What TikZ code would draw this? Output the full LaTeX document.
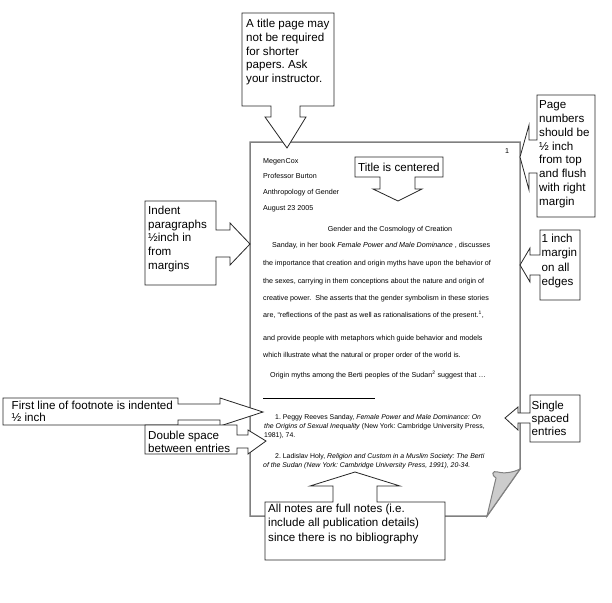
\documentclass[tikz,border=0pt]{standalone}
\usepackage{fontspec}
\setmainfont{Liberation Sans}
\frenchspacing
\begin{document}
\begin{tikzpicture}[x=1pt,y=-1pt,
  callout/.style={draw=black!85,fill=white,line width=0.8pt,line join=miter},
  pageline/.style={draw=black!50,line width=1.5pt,line join=miter},
  ctext/.style={anchor=north west,inner sep=0pt,align=left,font=\fontsize{11.6}{13.8}\selectfont},
  ptext/.style={anchor=base west,inner sep=0pt,font=\fontsize{7.15}{8}\selectfont},
  ftext/.style={anchor=base west,inner sep=0pt,font=\fontsize{6.9}{8}\selectfont}]
\useasboundingbox (0,0) rectangle (612,602);
\fill[white] (0,0) rectangle (612,602);
% page
\draw[pageline] (250,142) -- (520,142) -- (520,469) -- (487,516) -- (250,516) -- cycle;
\draw[pageline,fill=black!20,line width=1pt] (487,516) -- (496,478) .. controls (491,475) and (492,470) .. (498,472) .. controls (505,474) and (514,472) .. (520,469) -- cycle;
% page text
\node[ptext] (pn) at (505,153.5) {1};
\node[ptext] (l1) at (263,163.5) {Megen\hspace{0.6pt}Cox};
\node[ptext] (l2) at (263,178.5) {Professor Burton};
\node[ptext] (l3) at (263,194.5) {Anthropology of Gender};
\node[ptext] (l4) at (263,210.5) {August 23 2005};
\node[anchor=base,inner sep=0pt,font=\fontsize{7.15}{8}\selectfont] (ttl) at (390,231.5) {Gender and the Cosmology of Creation};
\node[ptext] (b1) at (272,247.5) {Sanday, in her book \textit{Female Power and Male Dominance} , discusses};
\node[ptext] (b2) at (263,265.5) {the importance that creation and origin myths have upon the behavior of};
\node[ptext] (b3) at (263,283.5) {the sexes, carrying in them conceptions about the nature and origin of};
\node[ptext] (b4) at (263,300.5) {creative power.\ \ She asserts that the gender symbolism in these stories};
\node[ptext] (b5) at (263,317.5) {are, “reflections of the past as well as rationalisations of the present.\textsuperscript{1},};
\node[ptext] (b6) at (263,340.5) {and provide people with metaphors which guide behavior and models};
\node[ptext] (b7) at (263,357.5) {which illustrate what the natural or proper order of the world is.};
\node[ptext] (b8) at (270,377.5) {Origin myths among the Berti peoples of the Sudan\textsuperscript{2} suggest that …};
\coordinate (r1) at (263,398);
\coordinate (r2) at (375,398);
\draw[black,line width=0.6pt] (r1) -- (r2);
\node[ftext] (f1) at (275,419.5) {1. Peggy Reeves Sanday, \textit{Female Power and Male Dominance: On}};
\node[ftext] (f2) at (264,428.5) {\textit{the Origins of Sexual Inequality} (New York: Cambridge University Press,};
\node[ftext] (f3) at (264,437.5) {1981), 74.};
\node[ftext] (f4) at (275,458.5) {2. Ladislav Holy, \textit{Religion and Custom in a Muslim Society: The Berti}};
\node[ftext] (f5) at (263,467.5) {\textit{of the Sudan (New York: Cambridge University Press, 1991), 20-34.}};
% callouts
\draw[callout] (242,13) -- (334,13) -- (334,106) -- (300,106) -- (300,117) -- (306,117) -- (287,148) -- (265,117) -- (271,117) -- (271,106) -- (242,106) -- cycle;
\node[ctext] (c1) at (246,18.8) {A title page may\\not be required\\for shorter\\papers. Ask\\your instructor.};
\draw[callout] (537,95) -- (595,95) -- (595,217) -- (537,217) -- (537,173) -- (529,173) -- (529,190) -- (520,157) -- (529,125) -- (529,140) -- (537,140) -- cycle;
\node[ctext] (c2) at (539,100.6) {Page\\numbers\\should be\\½ inch\\from top\\and flush\\with right\\margin};
\draw[callout] (540,230) -- (580,230) -- (580,300) -- (540,300) -- (540,275) -- (530,275) -- (530,282) -- (520,265) -- (530,248) -- (530,255) -- (540,255) -- cycle;
\node[ctext,font=\fontsize{11.6}{14.5}\selectfont] (c3) at (541.5,233.6) {1 inch\\margin\\on all\\edges};
\draw[callout] (145,201) -- (216,201) -- (216,230) -- (230,230) -- (230,223) -- (250,244) -- (230,265) -- (230,257) -- (216,257) -- (216,285) -- (145,285) -- cycle;
\node[ctext] (c4) at (148,205.6) {Indent\\paragraphs\\½inch in\\from\\margins};
\draw[callout] (355,157) -- (443,157) -- (443,177) -- (415,177) -- (415,189) -- (422,189) -- (398,201) -- (373,189) -- (380,189) -- (380,177) -- (355,177) -- cycle;
\node[ctext] (c5) at (358,162.6) {Title is centered};
\draw[callout] (3,398) -- (178,398) -- (178,404) -- (220,404) -- (220,398) -- (263,412) -- (220,426) -- (220,420) -- (178,420) -- (178,425) -- (3,425) -- cycle;
\node[ctext,font=\fontsize{11.6}{12.2}\selectfont] (c6) at (11.5,400.6) {First line of footnote is indented\\½ inch};
\draw[callout] (145,425) -- (237,425) -- (237,435) -- (248,435) -- (248,430) -- (266,441) -- (248,454) -- (248,448) -- (237,448) -- (237,454) -- (145,454) -- cycle;
\node[ctext,font=\fontsize{11.6}{13.3}\selectfont] (c7) at (148,430.6) {Double space\\between entries};
\draw[callout] (530,395) -- (580,395) -- (580,442) -- (530,442) -- (530,423) -- (518,423) -- (518,430) -- (505,418) -- (518,407) -- (518,413) -- (530,413) -- cycle;
\node[ctext,font=\fontsize{11.6}{13.3}\selectfont] (c8) at (531.5,400.6) {Single\\spaced\\entries};
\draw[callout] (265,502) -- (333,502) -- (333,486) -- (310,486) -- (355,472) -- (400,486) -- (377,486) -- (377,502) -- (445,502) -- (445,560) -- (265,560) -- cycle;
\node[ctext,font=\fontsize{11.6}{14.2}\selectfont] (c9) at (268,504) {All notes are full notes (i.e.\\include all publication details)\\since there is no bibliography};
\end{tikzpicture}
\end{document}
